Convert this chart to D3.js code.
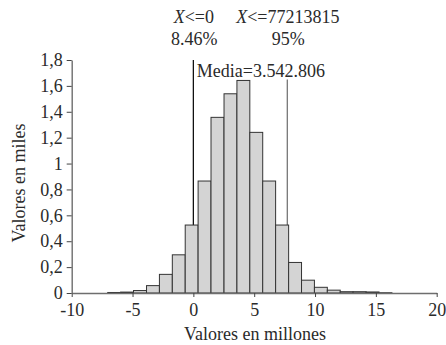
<!DOCTYPE html>
<html>
<head>
<meta charset="utf-8">
<script src="https://cdn.jsdelivr.net/npm/d3@7"></script>
<style>
  body { margin: 0; background: #fff; }
  svg text { font-family: "Liberation Serif", "Times New Roman", serif; }
</style>
</head>
<body>
<svg id="chart" width="446" height="345"></svg>
<script>
// histogram bin edges (millones) and heights (miles)
const binEdges = [-7.04, -5.98, -4.92, -3.85, -2.79, -1.73, -0.67, 0.39, 1.45, 2.52, 3.58,
  4.64, 5.70, 6.76, 7.83, 8.89, 9.95, 11.01, 12.07, 13.13, 14.20, 15.26, 16.32]
const binCounts = [0.004, 0.007, 0.019, 0.057, 0.144, 0.295, 0.525, 0.865, 1.357, 1.539, 1.642,
  1.241, 0.865, 0.525, 0.236, 0.099, 0.044, 0.022, 0.010, 0.010, 0.008, 0.002]
const xTicks = [-10, -5, 0, 5, 10, 15, 20]
const yTicks = [0, 0.2, 0.4, 0.6, 0.8, 1, 1.2, 1.4, 1.6, 1.8]
// vertical markers: position, top of line, labels
const markerX = [0, 7.7213815]
const markerTop = [1.8, 1.65]
const markerLabel = ["<=0", "<=77213815"]
const markerPct = ["8.46%", "95%"]
const mediaLabel = "Media=3.542.806"

const margin = {top: 60, right: 9.3, bottom: 52, left: 71.7}
const width = 446, height = 345
const serif = '"Liberation Serif", "Times New Roman", serif'

const svg = d3.select('#chart')

const x = d3.scaleLinear().domain([-10, 20]).range([margin.left, width - margin.right])
const y = d3.scaleLinear().domain([0, 1.8]).range([height - margin.bottom, margin.top])

const fmt = d => String(d).replace('.', ',')

// marker lines (behind bars)
svg.selectAll('line.marker')
  .data(markerX)
  .enter()
  .append('line')
    .attr('class', 'marker')
    .attr('x1', d => x(d)).attr('x2', d => x(d))
    .attr('y1', (d, i) => y(markerTop[i]))
    .attr('y2', y(0))
    .style('stroke', (d, i) => i == 0 ? '#111' : '#777')
    .style('stroke-width', 1.3)

// bars
const bins = binCounts.map((c, i) => ({x0: binEdges[i], x1: binEdges[i + 1], v: c}))
svg.selectAll('rect.bar')
  .data(bins)
  .enter()
  .append('rect')
    .attr('class', 'bar')
    .attr('x', d => x(d.x0))
    .attr('width', d => x(d.x1) - x(d.x0))
    .attr('y', d => y(d.v))
    .attr('height', d => y(0) - y(d.v))
    .style('fill', '#d4d4d4')
    .style('stroke', '#333')
    .style('stroke-width', 1)

// axes
const xAxis = svg.append('g')
  .attr('transform', `translate(0,${y(0)})`)
  .call(d3.axisBottom(x).tickValues(xTicks).tickFormat(d => String(d)).tickSize(4).tickSizeOuter(0).tickPadding(6))
const yAxis = svg.append('g')
  .attr('transform', `translate(${margin.left},0)`)
  .call(d3.axisLeft(y).tickValues(yTicks).tickFormat(fmt).tickSize(5).tickSizeOuter(0).tickPadding(4))

for (const g of [xAxis, yAxis]) {
  g.attr('font-family', serif).attr('font-size', 18)
  g.select('.domain').style('stroke', '#6e6e6e').style('stroke-width', 1.4)
  g.selectAll('.tick line').style('stroke', '#444').style('stroke-width', 1)
  g.selectAll('.tick text').style('fill', '#2a2a2a').style('font-family', serif).style('font-size', '18px')
}
yAxis.selectAll('.tick text').attr('dy', '0.32em')

// axis titles
svg.append('text')
  .attr('x', 255).attr('y', 340)
  .attr('text-anchor', 'middle')
  .style('font-size', '18px').style('fill', '#2a2a2a')
  .text('Valores en millones')
svg.append('text')
  .attr('transform', 'translate(25,183) rotate(-90)')
  .attr('text-anchor', 'middle')
  .style('font-size', '18px').style('fill', '#2a2a2a')
  .text('Valores en miles')

// marker annotations
const ann = svg.selectAll('g.ann')
  .data(markerX)
  .enter()
  .append('g')
    .attr('class', 'ann')
ann.append('text')
  .attr('x', d => x(d) + 0.5).attr('y', 23)
  .attr('text-anchor', 'middle')
  .style('font-size', '18px').style('fill', '#2a2a2a')
  .call(t => {
    t.append('tspan').style('font-style', 'italic').text('X')
    t.append('tspan').text((d, i) => markerLabel[i])
  })
ann.append('text')
  .attr('x', d => x(d) + 1).attr('y', 45)
  .attr('text-anchor', 'middle')
  .style('font-size', '18px').style('fill', '#2a2a2a')
  .text((d, i) => markerPct[i])

svg.append('text')
  .attr('x', x(0) + 3.5).attr('y', 77)
  .style('font-size', '18px').style('fill', '#2a2a2a')
  .text(mediaLabel)
</script>
</body>
</html>
